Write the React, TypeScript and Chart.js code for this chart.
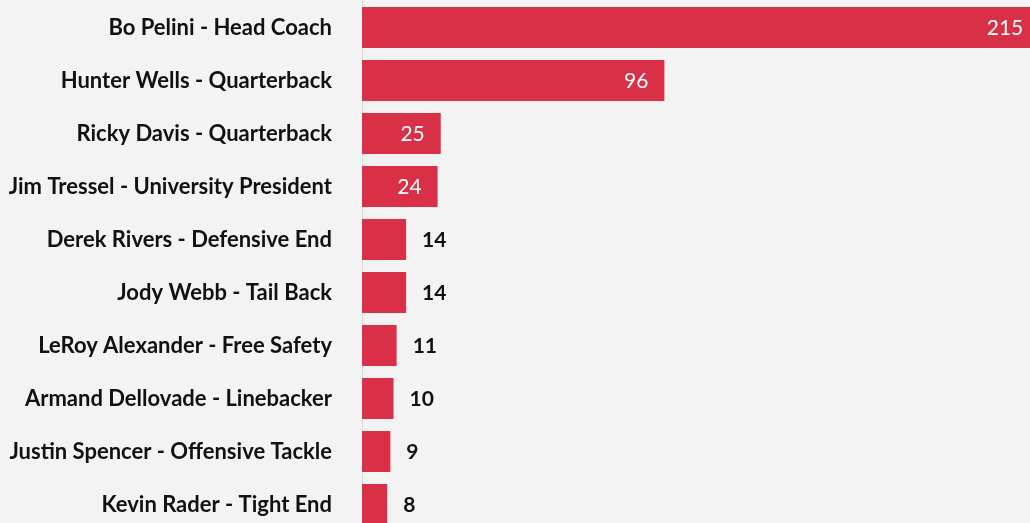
import React, { useEffect, useRef } from 'react';
import { Chart, registerables } from 'chart.js';

Chart.register(...registerables);

const categories: string[] = [
  'Bo Pelini - Head Coach',
  'Hunter Wells - Quarterback',
  'Ricky Davis - Quarterback',
  'Jim Tressel - University President',
  'Derek Rivers - Defensive End',
  'Jody Webb - Tail Back',
  'LeRoy Alexander - Free Safety',
  'Armand Dellovade - Linebacker',
  'Justin Spencer - Offensive Tackle',
  'Kevin Rader - Tight End',
];

const values: number[] = [215, 96, 25, 24, 14, 14, 11, 10, 9, 8];

const BAR_COLOR = '#d92f47';
const FONT = 'Lato, "Open Sans", sans-serif';

const valueLabels = {
  id: 'valueLabels',
  afterDatasetsDraw(chart: any) {
    const ctx = chart.ctx;
    const meta = chart.getDatasetMeta(0);
    ctx.save();
    meta.data.forEach((bar: any, i: number) => {
      const v = values[i];
      const text = String(v);
      ctx.textBaseline = 'middle';
      if (v >= 20) {
        ctx.font = `400 21px ${FONT}`;
        ctx.fillStyle = '#ffffff';
        ctx.textAlign = 'right';
        ctx.fillText(text, bar.x - 16, bar.y + 1);
      } else {
        ctx.font = `700 21px ${FONT}`;
        ctx.fillStyle = '#111111';
        ctx.textAlign = 'left';
        ctx.fillText(text, bar.x + 16, bar.y + 1);
      }
    });
    ctx.restore();
  },
};

export default function App() {
  const canvasRef = useRef<HTMLCanvasElement | null>(null);

  useEffect(() => {
    document.body.style.margin = '0';
    const canvas = canvasRef.current;
    if (!canvas) return;
    const chart = new Chart(canvas, {
      type: 'bar',
      data: {
        labels: categories,
        datasets: [
          {
            data: values,
            backgroundColor: BAR_COLOR,
            borderWidth: 0,
            barPercentage: 0.775,
            categoryPercentage: 1,
          },
        ],
      },
      options: {
        indexAxis: 'y',
        animation: false,
        responsive: true,
        maintainAspectRatio: false,
        layout: { padding: { top: 1, bottom: 1, left: 0, right: 0 } },
        plugins: {
          legend: { display: false },
          tooltip: { enabled: false },
        },
        scales: {
          x: {
            display: false,
            min: 0,
            max: 220,
          },
          y: {
            afterFit(scale: any) {
              scale.width = 362;
              scale.paddingTop = 0;
              scale.paddingBottom = 0;
            },
            grid: { display: false, drawTicks: false },
            border: { display: true, color: '#dadada', width: 1 },
            ticks: {
              padding: 30,
              color: '#111111',
              font: { family: FONT, size: 22, weight: 'bold' },
            },
          },
        },
      },
      plugins: [valueLabels],
    });
    return () => chart.destroy();
  }, []);

  return (
    <div
      style={{
        width: 1030,
        height: 523,
        overflow: 'hidden',
        background: '#f3f3f3',
        position: 'relative',
      }}
    >
      <div style={{ width: 1055, height: 532, position: 'relative' }}>
        <canvas ref={canvasRef} />
      </div>
    </div>
  );
}
